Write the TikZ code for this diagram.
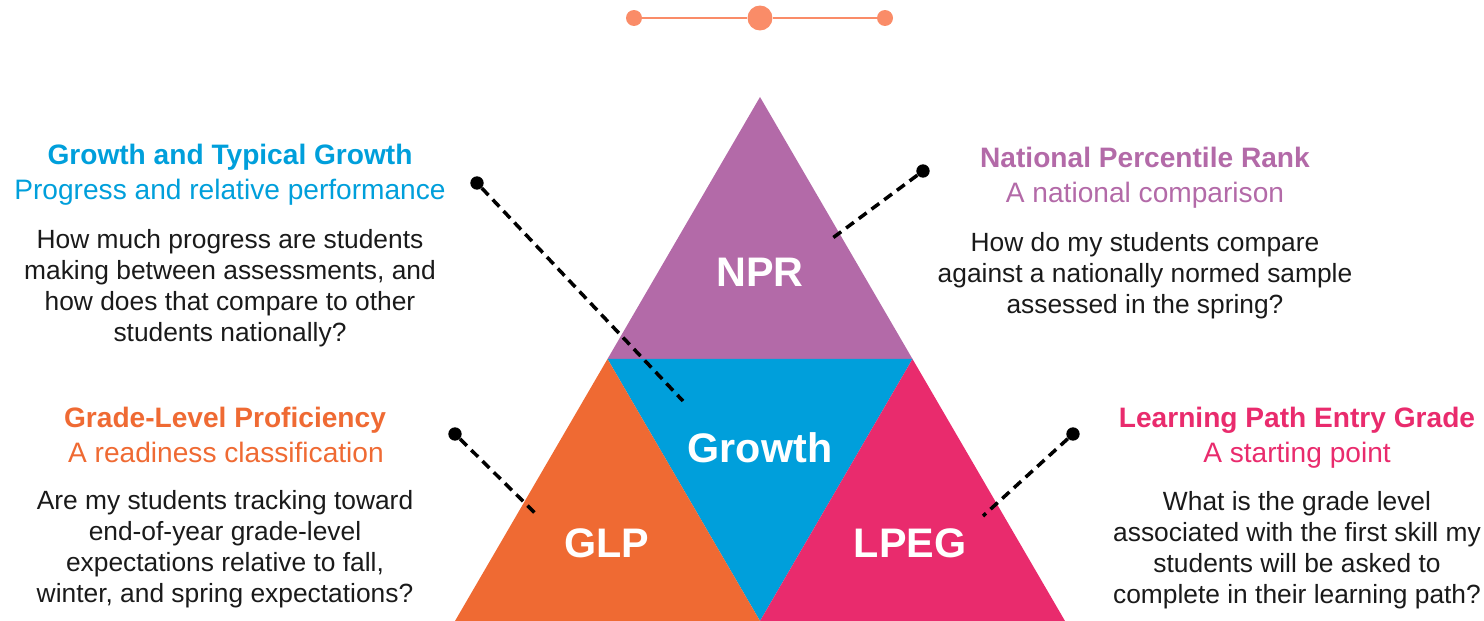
\documentclass[tikz,border=0pt]{standalone}
\usepackage{fontspec}
\setmainfont{Liberation Sans}
\definecolor{nprpurple}{HTML}{B36AA8}
\definecolor{growthblue}{HTML}{009FDB}
\definecolor{glporange}{HTML}{EF6A33}
\definecolor{lpegpink}{HTML}{E92B6D}
\definecolor{knobsalmon}{HTML}{FA8C68}
\definecolor{bodygray}{HTML}{1A1A1A}

\begin{document}
\begin{tikzpicture}[
  x=0.02cm, y=-0.02cm,
  seglabel/.style={text=white, font=\fontsize{23.5}{28}\selectfont\bfseries, inner sep=0pt},
  headline/.style={anchor=base, inner sep=0pt, font=\fontsize{16}{19}\selectfont\bfseries},
  subline/.style={anchor=base, inner sep=0pt, font=\fontsize{16}{19}\selectfont},
  question/.style={anchor=north, align=center, inner sep=0pt, text=bodygray, font=\fontsize{15}{17.64}\selectfont},
  dotpin/.style={circle, fill=black, inner sep=0pt, minimum size=7.6pt},
  leader/.style={dash pattern=on 5.5pt off 3.5pt, line width=2pt, color=black},
  knob/.style={circle, fill=knobsalmon, inner sep=0pt, minimum size=9.1pt},
  knobline/.style={line width=1.7pt, color=knobsalmon}
]
    \useasboundingbox (0,0) rectangle (1484,621);

    % Corners of the pyramid
    \coordinate (apex) at (760,97);
    \coordinate (midL) at (607.5,359);
    \coordinate (midR) at (912.5,359);
    \coordinate (botL) at (455,621);
    \coordinate (botM) at (760,621);
    \coordinate (botR) at (1065,621);

    % Segments
    \fill[nprpurple] (apex) -- (midL) -- (midR) -- cycle;
    \fill[growthblue] (midL) -- (midR) -- (botM) -- cycle;
    \fill[glporange] (midL) -- (botL) -- (botM) -- cycle;
    \fill[lpegpink] (midR) -- (botM) -- (botR) -- cycle;

    \node[seglabel] (npr) at (760,272) {NPR};
    \node[seglabel] (growth) at (760,448) {Growth};
    \node[seglabel] (glp) at (607,543) {GLP};
    \node[seglabel] (lpeg) at (910,543) {LPEG};

    % Top ornament
    \node[knob] (knobleft) at (634,18) {};
    \node[knob, minimum size=14.2pt] (knobmid) at (760,18) {};
    \node[knob] (knobright) at (885,18) {};
    \draw[knobline] (knobleft) -- (knobmid);
    \draw[knobline] (knobmid) -- (knobright);

    % Growth and Typical Growth
    \node[headline, text=growthblue] (growthhead) at (230,165) {Growth and Typical Growth};
    \node[subline, text=growthblue] (growthsub) at (230,200) {Progress and relative performance};
    \node[question] (growthtext) at (230,229) {How much progress are students\\making between assessments, and\\how does that compare to other\\students nationally?};

    % National Percentile Rank
    \node[headline, text=nprpurple] (nprhead) at (1145,168) {National Percentile Rank};
    \node[subline, text=nprpurple] (nprsub) at (1145,203) {A national comparison};
    \node[question] (nprtext) at (1145,232) {How do my students compare\\against a nationally normed sample\\assessed in the spring?};

    % Grade-Level Proficiency
    \node[headline, text=glporange] (glphead) at (225,427) {Grade-Level Proficiency};
    \node[subline, text=glporange] (glpsub) at (226,462) {A readiness classification};
    \node[question] (glptext) at (225,490) {Are my students tracking toward\\end-of-year grade-level\\expectations relative to fall,\\winter, and spring expectations?};

    % Learning Path Entry Grade
    \node[headline, text=lpegpink] (lpeghead) at (1297,427) {Learning Path Entry Grade};
    \node[subline, text=lpegpink] (lpegsub) at (1297,462) {A starting point};
    \node[question] (lpegtext) at (1297,491) {What is the grade level\\associated with the first skill my\\students will be asked to\\complete in their learning path?};

    % Leaders
    \node[dotpin] (growthpin) at (477,183) {};
    \coordinate (growthend) at (683,401);
    \node[dotpin] (nprpin) at (923,171) {};
    \coordinate (nprend) at (830,240);
    \node[dotpin] (glppin) at (455,434) {};
    \coordinate (glpend) at (538,516);
    \node[dotpin] (lpegpin) at (1073,434) {};
    \coordinate (lpegend) at (983,516);

    \draw[leader] (growthpin) -- (growthend);
    \draw[leader] (nprpin) -- (nprend);
    \draw[leader] (glppin) -- (glpend);
    \draw[leader] (lpegpin) -- (lpegend);
\end{tikzpicture}
\end{document}
